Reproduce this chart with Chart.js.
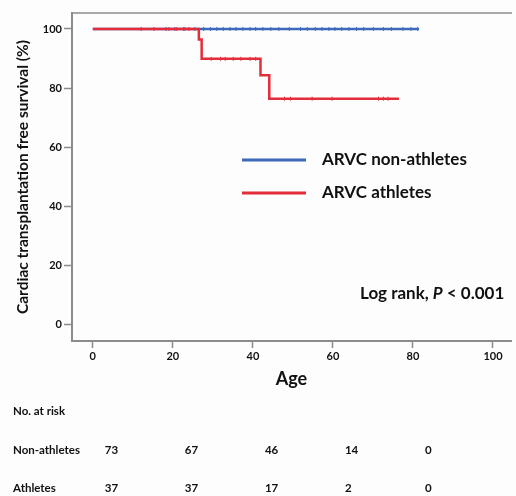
<!DOCTYPE html>
<html>
<head>
<meta charset="utf-8">
<script src="https://cdn.jsdelivr.net/npm/chart.js@4.4.1/dist/chart.umd.min.js"></script>
<style>
  html, body { margin: 0; padding: 0; background: #fdfdfd; }
  #wrap { width: 516px; height: 496px; }
</style>
</head>
<body>
<div id="wrap"><canvas id="km-chart"></canvas></div>
<script>
// Kaplan-Meier steps (age, survival %)
const nonAthleteAges = [0, 81.5];
const nonAthleteSurv = [100, 100];
const athleteAges = [0, 26.5, 27.2, 41.9, 44.1, 76.5];
const athleteSurv = [100, 96.4, 89.9, 84.3, 76.4, 76.4];

// censored observations (age)
const nonAthleteCensor = [18.3, 20.5, 23, 25.5, 27.7, 29.4, 31, 32.6, 34.3, 35.8, 37.5, 39.3, 40.7, 42.5, 44.5, 46.5,
  49.1, 51.9, 53.6, 55.6, 57.3, 59, 60.5, 62.2, 64, 65.9, 67.7, 70.1, 72.6, 74.6, 77.5, 79.5, 81.2];
const athleteCensor = [12.1, 15.3, 19, 21, 22.7, 24, 29.6, 31.9, 33.1, 35.1, 37, 39.3, 40.7,
  47.9, 49.4, 54.8, 59.8, 71.4, 72.6, 73.8];

// numbers at risk
const riskAges = [0, 20, 40, 60, 80];
const nonAthletesAtRisk = [73, 67, 46, 14, 0];
const athletesAtRisk = [37, 37, 17, 2, 0];

const xTicks = [0, 20, 40, 60, 80, 100];
const yTicks = [0, 20, 40, 60, 80, 100];

const blue = 'rgb(60, 105, 185)';
const red = 'rgb(228, 45, 58)';
const axisGrey = '#8c8c8c';
const fontFam = 'Lato, "Open Sans", sans-serif';

function survAt(ages, surv, t) {
  let s = surv[0];
  for (let i = 0; i < ages.length; i++) {
    if (ages[i] <= t) s = surv[i];
  }
  return s;
}

const toXY = (ages, vals) => ages.map((a, i) => ({ x: a, y: vals[i] }));
const censorXY = (times, ages, surv) => times.map(t => ({ x: t, y: survAt(ages, surv, t) }));

const overlayPlugin = {
  id: 'overlay',
  afterDraw(chart) {
    const ctx = chart.ctx;
    const area = chart.chartArea;
    const xs = chart.scales.x;
    ctx.save();

    // legend
    const legendItems = [
      { label: 'ARVC non-athletes', color: blue, y: area.top + 147 },
      { label: 'ARVC athletes', color: red, y: area.top + 180 }
    ];
    ctx.font = 'bold 17px ' + fontFam;
    ctx.textBaseline = 'middle';
    ctx.textAlign = 'left';
    legendItems.forEach(item => {
      ctx.strokeStyle = item.color;
      ctx.lineWidth = 3;
      ctx.beginPath();
      ctx.moveTo(area.left + 170, item.y);
      ctx.lineTo(area.left + 234, item.y);
      ctx.stroke();
      ctx.fillStyle = '#111';
      ctx.fillText(item.label, area.left + 250, item.y);
    });

    // log rank text
    let tx = area.left + 288;
    const ty = area.top + 281;
    ctx.font = 'bold 17px ' + fontFam;
    ctx.fillText('Log rank, ', tx, ty);
    tx += ctx.measureText('Log rank, ').width;
    ctx.font = 'italic bold 17px ' + fontFam;
    ctx.fillText('P', tx, ty);
    tx += ctx.measureText('P').width;
    ctx.font = 'bold 17px ' + fontFam;
    ctx.fillText(' < 0.001', tx, ty);

    // numbers at risk table
    ctx.font = 'bold 11.5px ' + fontFam;
    ctx.fillStyle = '#111';
    ctx.fillText('No. at risk', 13, 411);
    ctx.fillText('Non-athletes', 13, 450);
    ctx.fillText('Athletes', 13, 488);
    riskAges.forEach((age, i) => {
      const px = xs.getPixelForValue(age) + 12;
      ctx.fillText(String(nonAthletesAtRisk[i]), px, 450);
      ctx.fillText(String(athletesAtRisk[i]), px, 488);
    });
    ctx.restore();
  }
};

const config = {
  type: 'scatter',
  data: {
    datasets: [
      {
        label: 'ARVC athletes',
        data: toXY(athleteAges, athleteSurv),
        showLine: true,
        stepped: true,
        borderColor: red,
        borderWidth: 2.5,
        pointRadius: 0,
        order: 1
      },
      {
        label: 'athletes censored',
        data: censorXY(athleteCensor, athleteAges, athleteSurv),
        showLine: false,
        pointStyle: 'line',
        rotation: 90,
        pointRadius: 2,
        borderColor: red,
        borderWidth: 1,
        order: 0
      },
      {
        label: 'ARVC non-athletes',
        data: toXY(nonAthleteAges, nonAthleteSurv),
        showLine: true,
        stepped: true,
        borderColor: blue,
        borderWidth: 2.5,
        pointRadius: 0,
        order: 3
      },
      {
        label: 'non-athletes censored',
        data: censorXY(nonAthleteCensor, nonAthleteAges, nonAthleteSurv),
        showLine: false,
        pointStyle: 'line',
        rotation: 90,
        pointRadius: 2,
        borderColor: blue,
        borderWidth: 1,
        order: 2
      }
    ]
  },
  options: {
    responsive: true,
    maintainAspectRatio: false,
    animation: false,
    layout: { padding: { top: 13, right: 0, bottom: 105, left: 0 } },
    plugins: {
      legend: { display: false },
      tooltip: { enabled: false }
    },
    scales: {
      x: {
        type: 'linear',
        position: 'bottom',
        min: -5.2,
        max: 104.5,
        afterBuildTicks: (scale) => { scale.ticks = xTicks.map(v => ({ value: v })); },
        afterFit: (scale) => { scale.height = 50; },
        grid: { drawOnChartArea: false, drawTicks: true, tickLength: 7, tickColor: axisGrey, tickWidth: 1.5 },
        border: { color: axisGrey, width: 2 },
        ticks: { color: '#111', padding: 2, font: { family: fontFam, size: 11, weight: 'bold' } },
        title: {
          display: true,
          text: 'Age',
          color: '#111',
          padding: { top: 0, bottom: 1 },
          font: { family: fontFam, size: 18, weight: 'bold' }
        }
      },
      xTop: {
        type: 'linear',
        position: 'top',
        min: -5.2,
        max: 104.5,
        afterFit: (scale) => { scale.height = 0; },
        grid: { display: false },
        ticks: { display: false },
        border: { color: '#a8a8a8', width: 2 }
      },
      y: {
        type: 'linear',
        position: 'left',
        min: -5.6,
        max: 105.4,
        afterBuildTicks: (scale) => { scale.ticks = yTicks.map(v => ({ value: v })); },
        afterFit: (scale) => { scale.width = 72; },
        grid: { drawOnChartArea: false, drawTicks: true, tickLength: 8, tickColor: axisGrey, tickWidth: 1.5 },
        border: { color: axisGrey, width: 2 },
        ticks: { color: '#111', padding: 2, font: { family: fontFam, size: 11, weight: 'bold' } },
        title: {
          display: true,
          text: 'Cardiac transplantation free survival (%)',
          color: '#111',
          padding: { top: 14, bottom: 0 },
          font: { family: fontFam, size: 15.5, weight: 'bold' }
        }
      }
    }
  },
  plugins: [overlayPlugin]
};

const ctx = document.getElementById('km-chart').getContext('2d');
const myChart = new Chart(ctx, config);
</script>
</body>
</html>
